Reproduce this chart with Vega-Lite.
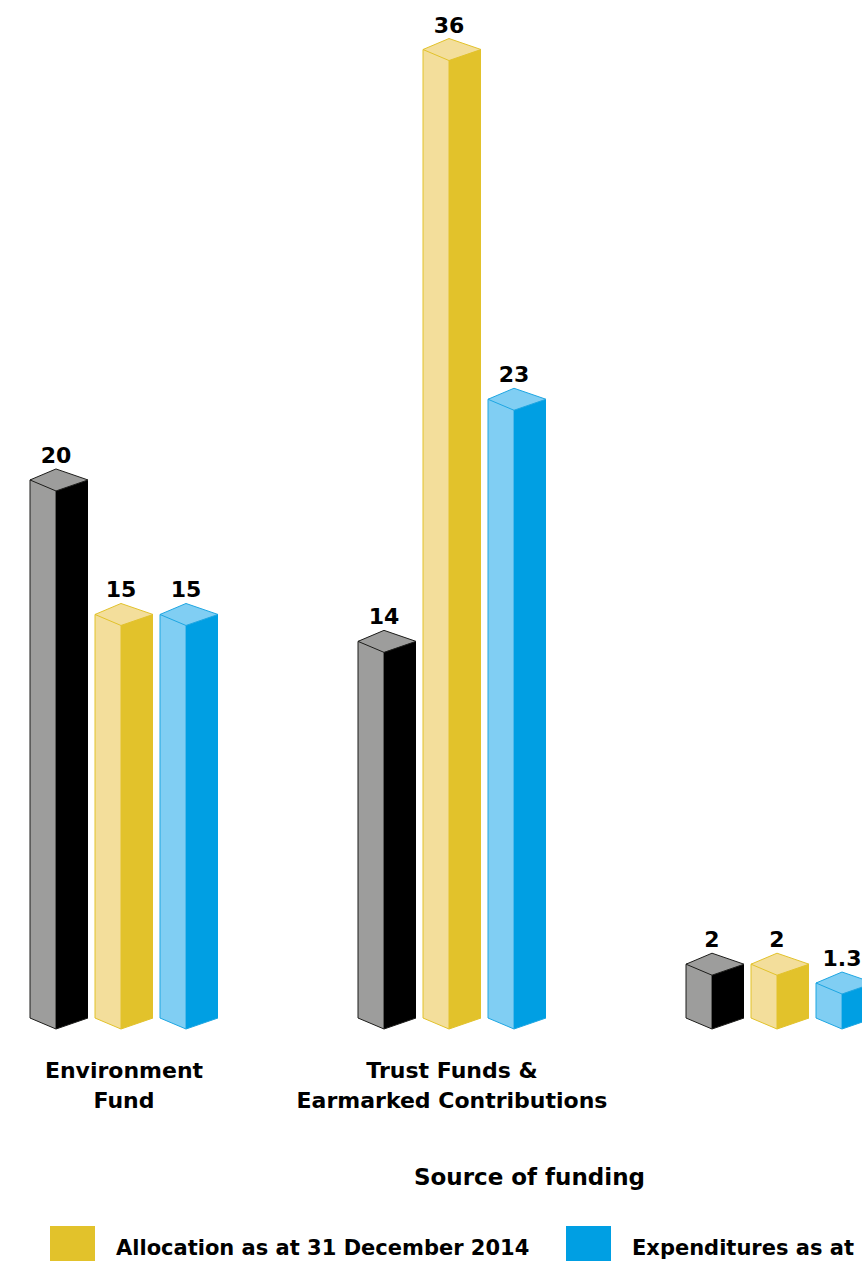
{
  "$schema": "https://vega.github.io/schema/vega-lite/v6.json",
  "width": 862,
  "height": 1029,
  "autosize": {"type": "none"},
  "padding": {"left": 0, "top": 0, "right": 0, "bottom": 232},
  "background": "#ffffff",
  "config": {
    "view": {"stroke": null},
    "font": "DejaVu Sans"
  },
  "data": {
    "values": [
      {"group": "Environment Fund", "series": "Budget", "value": 20},
      {"group": "Environment Fund", "series": "Allocation as at 31 December 2014", "value": 15},
      {"group": "Environment Fund", "series": "Expenditures as at 31 December 2014", "value": 15},
      {"group": "Trust Funds & Earmarked Contributions", "series": "Budget", "value": 14},
      {"group": "Trust Funds & Earmarked Contributions", "series": "Allocation as at 31 December 2014", "value": 36},
      {"group": "Trust Funds & Earmarked Contributions", "series": "Expenditures as at 31 December 2014", "value": 23},
      {"group": "", "series": "Budget", "value": 2},
      {"group": "", "series": "Allocation as at 31 December 2014", "value": 2},
      {"group": "", "series": "Expenditures as at 31 December 2014", "value": 1.3}
    ]
  },
  "encoding": {
    "x": {
      "field": "group",
      "type": "nominal",
      "sort": null,
      "scale": {"range": [26.5, 877.5], "paddingInner": 0.4055, "paddingOuter": 0},
      "axis": {
        "title": "Source of funding",
        "orient": "bottom",
        "domain": false,
        "ticks": false,
        "tickSize": 0,
        "labelAngle": 0,
        "labelPadding": 48,
        "labelBaseline": "alphabetic",
        "labelLineHeight": 30,
        "labelFont": "DejaVu Sans",
        "labelFontWeight": "bold",
        "labelFontSize": 22,
        "labelColor": "#000000",
        "labelLimit": 2000,
        "labelOverlap": false,
        "labelFlush": false,
        "labelExpr": "datum.value == 'Environment Fund' ? ['Environment', 'Fund'] : datum.value == 'Trust Funds & Earmarked Contributions' ? ['Trust Funds &', 'Earmarked Contributions'] : datum.label",
        "titleFont": "DejaVu Sans",
        "titleFontWeight": "bold",
        "titleFontSize": 23,
        "titleColor": "#000000",
        "titleX": 529,
        "titleY": 155,
        "titleAlign": "center",
        "titleBaseline": "alphabetic"
      }
    }
  },
  "resolve": {"scale": {"xOffset": "independent"}},
  "layer": [
    {
      "mark": {"type": "bar", "width": 26, "yOffset": -11, "strokeWidth": 1, "opacity": 1},
      "encoding": {
        "xOffset": {
          "field": "series", "type": "nominal",
          "sort": ["Budget", "Allocation as at 31 December 2014", "Expenditures as at 31 December 2014"],
          "scale": {"type": "band", "range": [-16, 179], "paddingInner": 0, "paddingOuter": 0}
        },
        "y": {"field": "value", "type": "quantitative", "scale": {"domain": [0, 38.25], "nice": false, "zero": true}, "axis": null},
        "y2": {"datum": 0},
        "fill": {
          "field": "series", "type": "nominal", "legend": null,
          "scale": {"domain": ["Budget", "Allocation as at 31 December 2014", "Expenditures as at 31 December 2014"], "range": ["#9d9d9c", "#f3de9b", "#80cef3"]}
        },
        "stroke": {
          "field": "series", "type": "nominal", "legend": null,
          "scale": {"domain": ["Budget", "Allocation as at 31 December 2014", "Expenditures as at 31 December 2014"], "range": ["#1d1d1b", "#e2c22b", "#1ea6e2"]}
        }
      }
    },
    {
      "mark": {"type": "bar", "width": 32, "yOffset": -11, "opacity": 1},
      "encoding": {
        "xOffset": {
          "field": "series", "type": "nominal",
          "sort": ["Budget", "Allocation as at 31 December 2014", "Expenditures as at 31 December 2014"],
          "scale": {"type": "band", "range": [13, 208], "paddingInner": 0, "paddingOuter": 0}
        },
        "y": {"field": "value", "type": "quantitative"},
        "y2": {"datum": 0},
        "color": {
          "field": "series", "type": "nominal",
          "scale": {"domain": ["Allocation as at 31 December 2014", "Expenditures as at 31 December 2014", "Budget"], "range": ["#e2c22b", "#009fe3", "#000000"]},
          "legend": {
            "orient": "none",
            "legendX": 50,
            "legendY": 1226,
            "direction": "horizontal",
            "columns": 3,
            "columnPadding": 36,
            "padding": 0,
            "title": null,
            "symbolType": "square",
            "symbolSize": 2025,
            "symbolStrokeWidth": 0,
            "symbolOpacity": 1,
            "labelFont": "DejaVu Sans",
            "labelFontWeight": "bold",
            "labelFontSize": 21,
            "labelColor": "#000000",
            "labelOffset": 21,
            "labelLimit": 2000,
            "labelBaseline": "middle"
          }
        }
      }
    },
    {
      "mark": {"type": "point", "filled": true, "shape": "M -31 -11 L -29 -11 L -3 0 L 29 -11 L 31 -11 L 31 3 L -31 3 Z", "size": 4, "fill": "#ffffff", "strokeWidth": 0, "opacity": 1},
      "encoding": {
        "xOffset": {"field": "series", "type": "nominal", "sort": ["Budget", "Allocation as at 31 December 2014", "Expenditures as at 31 December 2014"], "scale": {"type": "band", "paddingInner": 0, "paddingOuter": 0}},
        "y": {"datum": 0}
      }
    },
    {
      "mark": {"type": "point", "filled": false, "shape": "M -29 -11 L -3 0 L 29 -11", "size": 4, "strokeWidth": 1, "opacity": 1},
      "encoding": {
        "xOffset": {"field": "series", "type": "nominal", "sort": ["Budget", "Allocation as at 31 December 2014", "Expenditures as at 31 December 2014"], "scale": {"type": "band", "paddingInner": 0, "paddingOuter": 0}},
        "y": {"datum": 0},
        "stroke": {"field": "series", "type": "nominal", "legend": null}
      }
    },
    {
      "mark": {"type": "point", "filled": true, "shape": "M -29 -11 L -3 -22 L 29 -11 L -3 0 Z", "size": 4, "strokeWidth": 1, "opacity": 1},
      "encoding": {
        "xOffset": {"field": "series", "type": "nominal", "sort": ["Budget", "Allocation as at 31 December 2014", "Expenditures as at 31 December 2014"], "scale": {"type": "band", "paddingInner": 0, "paddingOuter": 0}},
        "y": {"field": "value", "type": "quantitative"},
        "fill": {"field": "series", "type": "nominal", "legend": null},
        "stroke": {"field": "series", "type": "nominal", "legend": null}
      }
    },
    {
      "mark": {"type": "text", "dx": -3, "dy": -28, "align": "center", "baseline": "alphabetic", "font": "DejaVu Sans", "fontWeight": "bold", "fontSize": 22, "color": "#000000"},
      "encoding": {
        "xOffset": {"field": "series", "type": "nominal", "sort": ["Budget", "Allocation as at 31 December 2014", "Expenditures as at 31 December 2014"], "scale": {"type": "band", "paddingInner": 0, "paddingOuter": 0}},
        "y": {"field": "value", "type": "quantitative"},
        "text": {"field": "value", "type": "quantitative", "format": "~g"}
      }
    }
  ]
}
